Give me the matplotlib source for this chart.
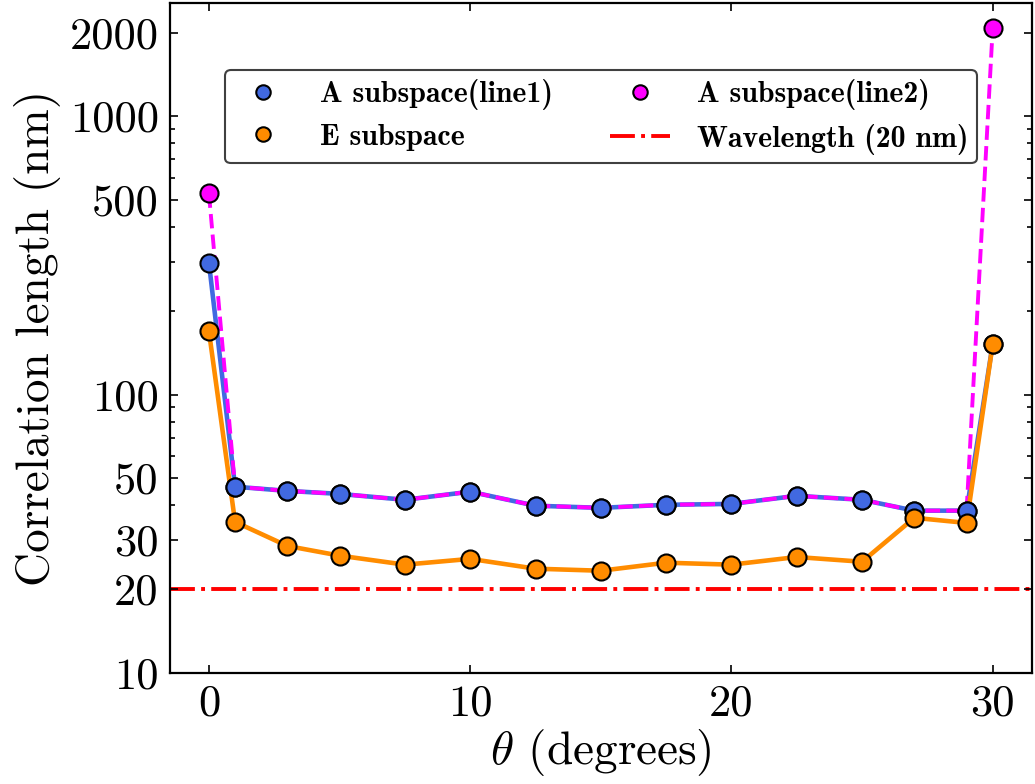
import matplotlib
matplotlib.use("Agg")
import matplotlib.pyplot as plt

# angles (degrees)
theta = [0, 1, 3, 5, 7.5, 10, 12.5, 15, 17.5, 20, 22.5, 25, 27, 29, 30]

# correlation lengths (nm)
a_line1 = [298, 46.7, 45.1, 44.0, 41.9, 44.8, 39.9, 39.2, 40.2, 40.5, 43.3, 41.9, 38.3, 38.3, 152]
a_line2 = [528, 46.7, 45.1, 44.0, 41.9, 44.8, 39.9, 39.2, 40.2, 40.5, 43.3, 41.9, 38.3, 38.3, 2075]
e_sub = [169, 34.9, 28.6, 26.4, 24.5, 25.7, 23.7, 23.3, 24.9, 24.5, 26.1, 25.1, 36.1, 34.6, 152]
wavelength = 20

ytick_vals = [10, 20, 30, 50, 100, 500, 1000, 2000]
xtick_vals = [0, 10, 20, 30]

plt.rcParams['font.family'] = 'serif'
plt.rcParams['font.serif'] = ['cmr10']
plt.rcParams['mathtext.fontset'] = 'cm'
plt.rcParams['axes.formatter.use_mathtext'] = True

fig = plt.figure(figsize=(10.35, 7.84), dpi=100)
ax = fig.add_axes([0.164, 0.1416, 0.833, 0.8544])

# lines
ax.plot(theta, a_line1, color='royalblue', lw=3.3, zorder=2)
ax.plot(theta, a_line2, color='magenta', lw=2.8, ls='--', zorder=3)
ax.plot(theta, e_sub, color='darkorange', lw=3.3, zorder=4)
ax.axhline(wavelength, color='red', lw=2.8, ls='-.', zorder=1,
           label='Wavelength (20 nm)')

# markers
mk = dict(ls='none', marker='o', ms=13, markeredgecolor='black', markeredgewidth=1.5)
ax.plot(theta, a_line2, color='magenta', zorder=5, label='A subspace(line2)', **mk)
ax.plot(theta, a_line1, color='royalblue', zorder=6, label='A subspace(line1)', **mk)
ax.plot(theta, e_sub, color='darkorange', zorder=7, label='E subspace', **mk)

ax.set_yscale('log')
ax.set_ylim(10, 2550)
ax.set_xlim(-1.5, 31.5)
ax.set_yticks(ytick_vals, [str(v) for v in ytick_vals])
ax.set_xticks(xtick_vals, [str(v) for v in xtick_vals])

ax.tick_params(which='both', direction='in', top=True, right=True, width=1.2)
ax.tick_params(which='major', length=6, labelsize=32, pad=8)
ax.tick_params(which='minor', length=3.5)
for s in ax.spines.values():
    s.set_linewidth(1.6)

ax.set_xlabel(r'$\theta$ (degrees)', fontsize=34, labelpad=2)
ax.set_ylabel('Correlation length (nm)', fontsize=34, labelpad=6)

handles, labels = ax.get_legend_handles_labels()
order = ['A subspace(line1)', 'E subspace', 'A subspace(line2)', 'Wavelength (20 nm)']
hmap = dict(zip(labels, handles))
leg = ax.legend([hmap[k] for k in order], order, ncol=2, loc='upper center',
                bbox_to_anchor=(0.5, 0.9), borderaxespad=0, borderpad=0.3,
                prop={'family': 'cmb10', 'size': 21.5},
                markerscale=0.8, handlelength=2.0, handletextpad=0.9,
                columnspacing=1.9, labelspacing=0.45, framealpha=1, fancybox=True)
leg.get_frame().set_edgecolor('0.25')
leg.get_frame().set_linewidth(1.5)

fig.savefig('out.png', dpi=100)
